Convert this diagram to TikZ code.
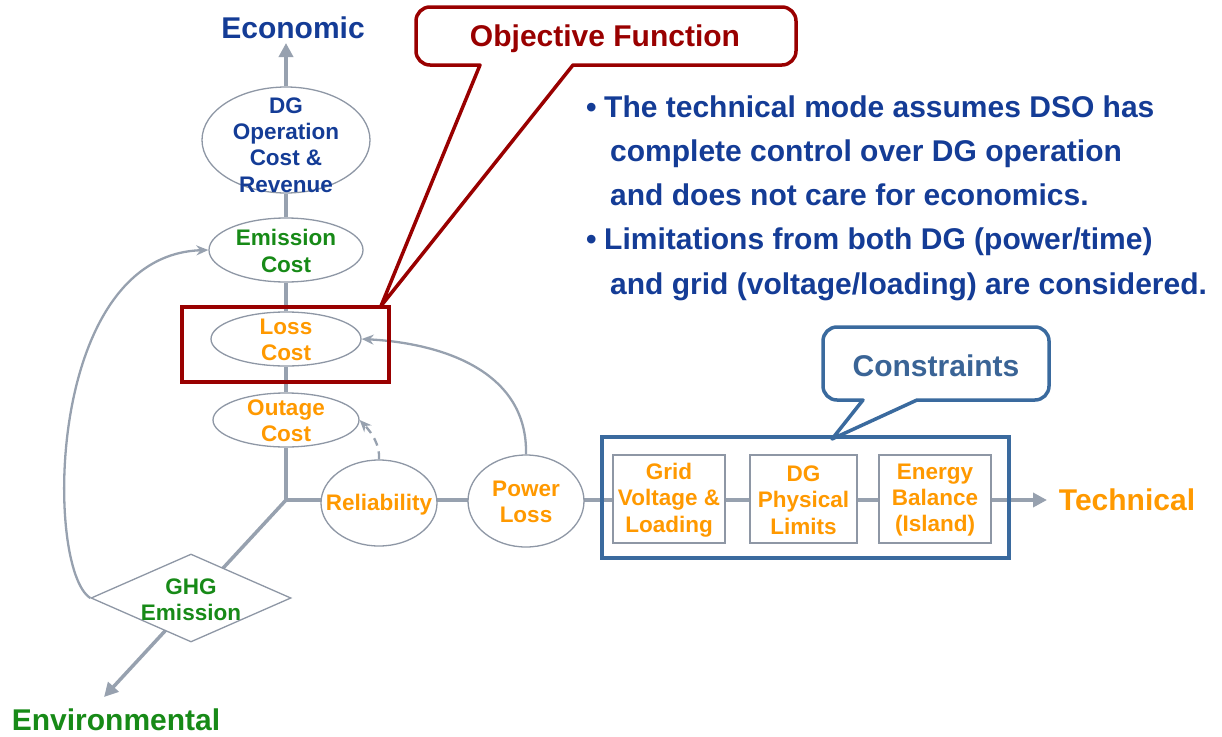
\documentclass[tikz,border=0pt]{standalone}
\usepackage{fontspec}
\setmainfont{Liberation Sans}
\usetikzlibrary{shapes.geometric,arrows.meta}
\pgfdeclarelayer{bg}
\pgfsetlayers{bg,main}

\definecolor{axisgray}{HTML}{97A1AF}
\definecolor{ellgray}{HTML}{8E97A5}
\definecolor{objred}{HTML}{990000}
\definecolor{frameblue}{HTML}{3A6A9E}
\definecolor{consblue}{HTML}{3A6496}
\definecolor{txtblue}{HTML}{143C96}
\definecolor{txtgreen}{HTML}{178A17}
\definecolor{txtorange}{HTML}{FF9900}

\newcommand\dgSmall{\fontsize{22.5}{26.3}\selectfont\bfseries}
\newcommand\dgLarge{\fontsize{30}{44.3}\selectfont\bfseries}

\begin{document}
\begin{tikzpicture}[x=1pt,y=-1pt,
  costell/.style={ellipse, draw=ellgray, line width=1.3pt, fill=white, inner sep=0pt},
  smalltxt/.style={font=\dgSmall, align=center, inner sep=0pt},
  bigtxt/.style={font=\dgLarge, inner sep=0pt},
  limbox/.style={draw=ellgray, line width=1.4pt, fill=white, inner sep=0pt, minimum height=88pt},
  axisline/.style={draw=axisgray, line width=3.5pt},
  axisarrow/.style={axisline, -{Triangle[length=14pt,width=14pt]}},
  feedback/.style={draw=axisgray, line width=2.3pt, -{Stealth[length=12pt,width=10pt]}},
  callout/.style={line width=3.5pt, fill=white, line join=round}
]
\useasboundingbox (0,0) rectangle (1222,736);

% ---- axis labels ----
\node[bigtxt, text=txtblue] (econ) at (293,28) {Economic};
\node[bigtxt, text=txtorange] (tech) at (1127,500) {Technical};
\node[bigtxt, text=txtgreen] (env) at (116,720) {Environmental};
\coordinate (econtip) at (286,43);
\coordinate (techtip) at (1047,500);
\coordinate (envtip) at (104,697);
\coordinate (junc) at (286,500);

% ---- economic column ----
\node[costell, minimum width=168pt, minimum height=106pt] (dgop) at (286,140) {};
\node[smalltxt, text=txtblue] (dgoptxt) at (286,145) {DG\\Operation\\Cost \&\\Revenue};
\node[costell, minimum width=154pt, minimum height=64pt] (emis) at (286,250) {};
\node[smalltxt, text=txtgreen] (emistxt) at (286,251) {Emission\\Cost};
\node[costell, minimum width=150pt, minimum height=54pt] (loss) at (286,339) {};
\node[smalltxt, text=txtorange] (losstxt) at (286,340) {Loss\\Cost};
\node[costell, minimum width=146pt, minimum height=54pt] (outage) at (286,420) {};
\node[smalltxt, text=txtorange] (outagetxt) at (286,421) {Outage\\Cost};

% ---- technical row ----
\node[costell, minimum width=116pt, minimum height=86pt] (rel) at (379,503) {};
\node[smalltxt, text=txtorange] (reltxt) at (379,505) {Reliability};
\node[costell, minimum width=116pt, minimum height=92pt] (ploss) at (526,501) {};
\node[smalltxt, text=txtorange] (plosstxt) at (526,502) {Power\\Loss};

% ---- environmental ----
\node[diamond, draw=ellgray, line width=1.3pt, fill=white, inner sep=0pt,
      minimum width=200pt, minimum height=88pt] (ghg) at (191,598) {};
\node[smalltxt, text=txtgreen] (ghgtxt) at (191,600) {GHG\\Emission};

% ---- constraints ----
\node[draw=frameblue, line width=3.5pt, minimum width=407pt, minimum height=121pt, inner sep=0pt] (consframe) at (805.5,497.5) {};
\node[limbox, minimum width=112pt] (gridbox) at (669,499) {};
\node[smalltxt, text=txtorange] (gridtxt) at (669,500) {Grid\\Voltage \&\\Loading};
\node[limbox, minimum width=107pt] (dgbox) at (803.5,499) {};
\node[smalltxt, text=txtorange] (dgtxt) at (803.5,500) {DG\\Physical\\Limits};
\node[limbox, minimum width=112pt] (enbox) at (935,499) {};
\node[smalltxt, text=txtorange] (entxt) at (935,500) {Energy\\Balance\\(Island)};

% ---- objective function frame ----
\node[draw=objred, line width=4pt, minimum width=207pt, minimum height=75pt, inner sep=0pt] (objbox) at (285.5,344.5) {};

% ---- connectors ----
\begin{pgfonlayer}{bg}
  \draw[axisline] (junc) -- (outage.south);
  \draw[axisline] (outage.north) -- (loss.south);
  \draw[axisline] (loss.north) -- (emis.south);
  \draw[axisline] (emis.north) -- (dgop.south);
  \draw[axisarrow] (dgop.north) -- (econtip);
  \draw[axisline] (junc) -- (rel.center |- junc);
  \draw[axisline] (rel.center |- junc) -- (ploss.center |- junc);
  \draw[axisline] (ploss.center |- junc) -- (gridbox.west |- junc);
  \draw[axisline] (gridbox.east |- junc) -- (dgbox.west |- junc);
  \draw[axisline] (dgbox.east |- junc) -- (enbox.west |- junc);
  \draw[axisarrow] (enbox.east |- junc) -- (techtip);
  \draw[axisarrow] (junc) -- (envtip);
  \draw[feedback] (ghg.west) .. controls (45,570) and (45,255) .. (emis.west);
  \draw[feedback] (ploss.north) .. controls (528,370) and (440,343) .. (loss.east);
  \draw[feedback, dash pattern=on 8pt off 6pt] (rel.north) .. controls (380,445) and (372,433) .. (outage.east);
\end{pgfonlayer}

% ---- callouts ----
\coordinate (objtip) at (381,306);
\draw[callout, draw=objred] (700,65) [rounded corners=14pt] -- (796,65) -- (796,7) -- (416,7) -- (416,65) [sharp corners] -- (480,65) -- (objtip) -- (573,65) -- cycle;
\node[bigtxt, text=objred] (objtxt) at (605,39) {Objective Function};

\coordinate (constip) at (832,439);
\draw[callout, draw=frameblue] (1000,400) [rounded corners=14pt] -- (1049,400) -- (1049,327) -- (823,327) -- (823,400) [sharp corners] -- (863,400) -- (constip) -- (917,400) -- cycle;
\node[bigtxt, text=consblue] (constxt) at (936,366) {Constraints};

% ---- notes ----
\node[bigtxt, text=txtblue, anchor=base west] (bul1) at (586,117) {•};
\node[bigtxt, text=txtblue, anchor=base west] (note1) at (604,117) {The technical mode assumes DSO has};
\node[bigtxt, text=txtblue, anchor=base west] (note2) at (610,161.3) {complete control over DG operation};
\node[bigtxt, text=txtblue, anchor=base west] (note3) at (610,205.6) {and does not care for economics.};
\node[bigtxt, text=txtblue, anchor=base west] (bul2) at (586,249.9) {•};
\node[bigtxt, text=txtblue, anchor=base west] (note4) at (604,249.9) {Limitations from both DG (power/time)};
\node[bigtxt, text=txtblue, anchor=base west] (note5) at (610,294.2) {and grid (voltage/loading) are considered.};
\end{tikzpicture}
\end{document}
